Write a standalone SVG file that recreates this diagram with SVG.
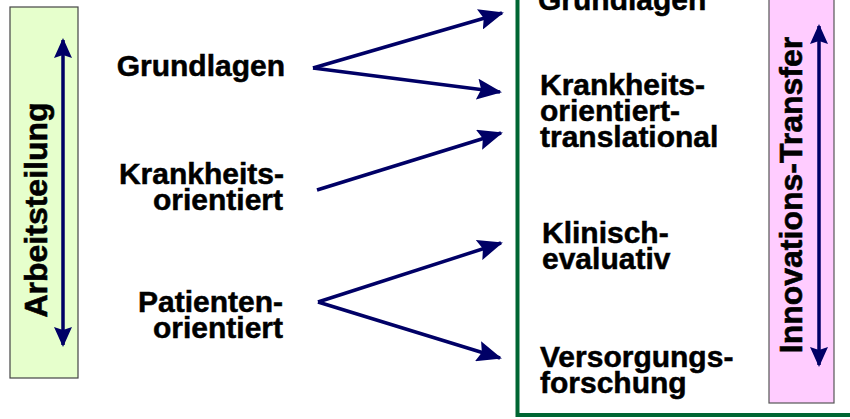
<svg xmlns="http://www.w3.org/2000/svg" width="850" height="419" viewBox="0 0 850 419">
<style>
.t{font-family:"Liberation Sans",Arial,sans-serif;font-weight:bold;font-size:30px;fill:#000;stroke:#000;stroke-width:0.5}
.v{font-family:"Liberation Sans",Arial,sans-serif;font-weight:bold;font-size:32px;fill:#000;stroke:#000;stroke-width:0.6}
.c{stroke:#000066;stroke-width:3.5;fill:none}
</style>
<defs>
<marker id="ah" markerUnits="userSpaceOnUse" viewBox="0 0 25 21" refX="23" refY="10.5" markerWidth="25" markerHeight="21" orient="auto">
<path d="M0,0 L25,10.5 L0,21 L4,10.5 z" fill="#000066"/>
</marker>
<marker id="vh" markerUnits="userSpaceOnUse" viewBox="0 0 20 18" refX="18" refY="9" markerWidth="20" markerHeight="18" orient="auto-start-reverse">
<path d="M0,0 L20,9 L0,18 L3,9 z" fill="#000066"/>
</marker>
</defs>
<g id="arbeitsteilung">
<rect x="10" y="7" width="68" height="371" fill="#e6ffcc" stroke="#444" stroke-width="1.2"/>
<line x1="63" y1="40" x2="63" y2="345" class="c" stroke-width="3" marker-start="url(#vh)" marker-end="url(#vh)"/>
<text class="v" transform="translate(47,210) rotate(-90)" text-anchor="middle">Arbeitsteilung</text>
</g>
<g id="forschung-box">
<rect x="517.5" y="-10" width="345" height="425" fill="none" stroke="#006633" stroke-width="4"/>
</g>
<g id="innovations-transfer">
<rect x="769" y="-5" width="65" height="408" fill="#ffccff" stroke="#555" stroke-width="1.2"/>
<line x1="819" y1="26" x2="819" y2="365" class="c" stroke-width="3" marker-start="url(#vh)" marker-end="url(#vh)"/>
<text class="v" transform="translate(802,195) rotate(-90)" text-anchor="middle" font-size="35.5">Innovations-Transfer</text>
</g>
<g id="l-grundlagen"><text class="t" x="285" y="76" text-anchor="end">Grundlagen</text></g>
<g id="l-krankheits"><text class="t" x="284" y="184" text-anchor="end">Krankheits-</text><text class="t" x="283" y="210" text-anchor="end">orientiert</text></g>
<g id="l-patienten"><text class="t" x="283" y="312" text-anchor="end">Patienten-</text><text class="t" x="283" y="338" text-anchor="end">orientiert</text></g>
<g id="r-grundlagen"><text class="t" x="538" y="10">Grundlagen</text></g>
<g id="r-krankheits"><text class="t" x="540" y="95">Krankheits-</text><text class="t" x="540" y="121">orientiert-</text><text class="t" x="540" y="147">translational</text></g>
<g id="r-klinisch"><text class="t" x="542" y="243">Klinisch-</text><text class="t" x="542" y="269">evaluativ</text></g>
<g id="r-versorgung"><text class="t" x="540" y="367">Versorgungs-</text><text class="t" x="540" y="393">forschung</text></g>
<g id="connectors">
<line x1="313" y1="68" x2="502" y2="13" class="c" marker-end="url(#ah)"/>
<line x1="313" y1="68" x2="500" y2="92" class="c" marker-end="url(#ah)"/>
<line x1="317" y1="190" x2="501" y2="133" class="c" marker-end="url(#ah)"/>
<line x1="318" y1="302" x2="501" y2="243" class="c" marker-end="url(#ah)"/>
<line x1="318" y1="302" x2="500" y2="358" class="c" marker-end="url(#ah)"/>
</g>
</svg>
